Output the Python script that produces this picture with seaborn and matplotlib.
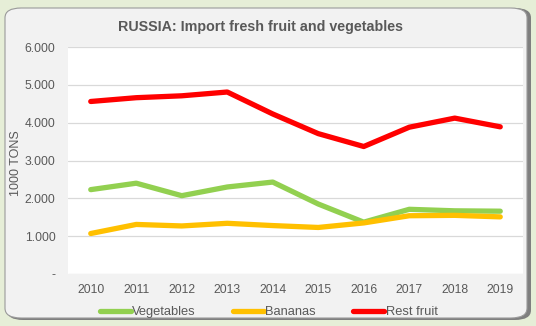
import matplotlib
matplotlib.use("Agg")
import matplotlib.pyplot as plt
import seaborn as sns
import pandas as pd
from matplotlib.patches import FancyBboxPatch
from matplotlib.ticker import FuncFormatter

years = ["2010", "2011", "2012", "2013", "2014", "2015", "2016", "2017", "2018", "2019"]
vegetables = [2230, 2400, 2070, 2300, 2430, 1850, 1370, 1710, 1670, 1660]
bananas = [1070, 1310, 1270, 1340, 1280, 1230, 1350, 1540, 1550, 1510]
rest_fruit = [4560, 4660, 4710, 4810, 4230, 3710, 3370, 3880, 4120, 3890]
series_names = ["Vegetables", "Bananas", "Rest fruit"]
colors = ["#92d050", "#ffc000", "#ff0000"]

df = pd.DataFrame({
    "year": years * 3,
    "value": vegetables + bananas + rest_fruit,
    "series": [series_names[0]] * 10 + [series_names[1]] * 10 + [series_names[2]] * 10,
})

sns.set_theme(style="white")
plt.rcParams["font.family"] = ["Liberation Sans", "DejaVu Sans"]

W, H = 536, 326
fig = plt.figure(figsize=(W / 100, H / 100), dpi=100)
fig.patch.set_facecolor("#e6eed7")

# panel
shadow = FancyBboxPatch((7 / W, 6 / H), 524 / W, 312 / H,
                        boxstyle="round,pad=0,rounding_size=0.03",
                        transform=fig.transFigure, facecolor="#7f7f7f",
                        edgecolor="none", zorder=0)
fig.patches.append(shadow)
panel = FancyBboxPatch((5 / W, 8 / H), 522 / W, 310 / H,
                       boxstyle="round,pad=0,rounding_size=0.03",
                       transform=fig.transFigure, facecolor="#f2f2f2",
                       edgecolor="#9a9a9a", linewidth=0.8, zorder=1)
fig.patches.append(panel)

ax = fig.add_axes([68 / W, 1 - 274 / H, (523 - 68) / W, (274 - 47) / H])
ax.set_zorder(2)
ax.set_facecolor("white")

sns.lineplot(data=df, x="year", y="value", hue="series", hue_order=series_names,
             palette=colors, linewidth=3.8, ax=ax, sort=False, legend=True)
for ln in ax.lines:
    ln.set_solid_capstyle("round")
    ln.set_solid_joinstyle("round")

ax.set_xlim(-0.5, 9.5)
ax.set_ylim(0, 6000)
ax.set_yticks(range(0, 6001, 1000))
ax.yaxis.set_major_formatter(FuncFormatter(lambda v, p: "-" if v == 0 else f"{int(v / 1000)}.000"))
ax.grid(axis="y", color="#d9d9d9", linewidth=0.9)
ax.set_axisbelow(True)
for s in ax.spines.values():
    s.set_visible(False)
ax.tick_params(axis="both", length=0, labelsize=8.7, labelcolor="#595959")
ax.tick_params(axis="y", pad=9)
ax.tick_params(axis="x", pad=7)
ax.set_xlabel("")
ax.set_ylabel("1000 TONS", fontsize=9, color="#595959")
ax.yaxis.set_label_coords(16 / W, 0.5, transform=fig.transFigure)
ax.yaxis.label.set_va("center")

leg = ax.legend(loc="center left", bbox_to_anchor=(88 / W, 1 - 312 / H),
                bbox_transform=fig.transFigure, ncol=3,
                frameon=False, fontsize=9.3, handlelength=2.4, handletextpad=0.1,
                columnspacing=2.9)
for t in leg.get_texts():
    t.set_color("#595959")
for h in leg.get_lines():
    h.set_linewidth(3.8)

fig.text(261 / W, 1 - 27 / H, "RUSSIA: Import fresh fruit and vegetables",
         ha="center", va="center", fontsize=10.3, fontweight="bold", color="#595959", zorder=3)

fig.savefig("out.png", dpi=100, facecolor=fig.get_facecolor())
